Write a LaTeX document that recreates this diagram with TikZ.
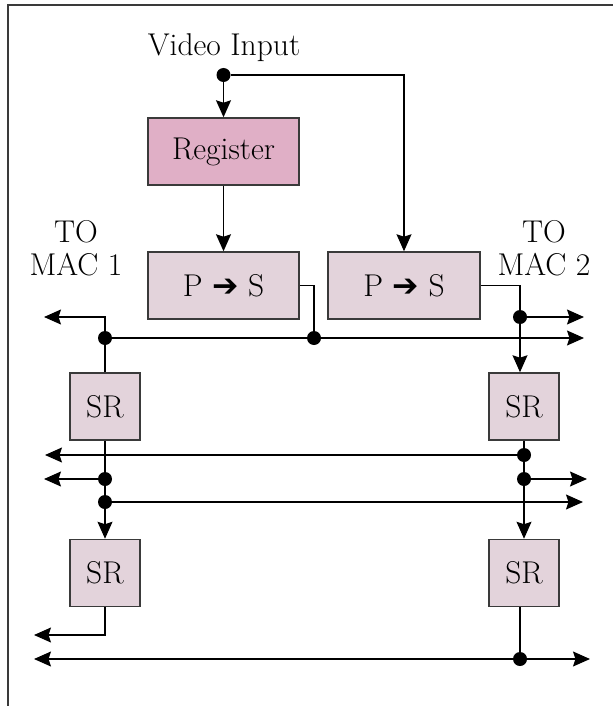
\documentclass[tikz,border=0pt]{standalone}
\usepackage{fontspec}
\usepackage{tikz}
\usetikzlibrary{arrows.meta}
\newfontfamily\arrowfont{DejaVu Sans}
\newcommand{\bigtext}{\fontsize{31.5}{33}\selectfont}
\tikzset{>={Stealth[length=17pt,width=15pt,inset=2.5pt]}}
\definecolor{regcol}{HTML}{E0AFC6}
\definecolor{boxcol}{HTML}{E3D3DB}
\definecolor{edgecol}{HTML}{3A3A3A}
\tikzset{block/.style = {shape=rectangle,draw=edgecol,line width=1.5pt,fill=boxcol,minimum height=67pt,inner sep=0pt,font=\bigtext}}
\tikzset{dot/.style = {shape=circle,fill=black,inner sep=0pt,minimum size=14pt}}
\tikzset{wire/.style = {line width=1.3pt}}

\begin{document}
\begin{tikzpicture}[x=1pt,y=-1pt]
                    \useasboundingbox (0,0) rectangle (613,706);
                    \draw[edgecol,line width=1.5pt] (8,706) -- (8,5) -- (613,5);

                    \node[font=\bigtext,anchor=base] (Vin) at (224,56) {Video Input};
                    \node[font=\bigtext,align=center] (Mac1) at (76,248.5) {TO\\MAC 1};
                    \node[font=\bigtext,align=center] (Mac2) at (544,248.5) {TO\\MAC 2};

                    \node[block,fill=regcol,minimum width=151pt] (Reg) at (223.5,151.5) {Register};
                    \node[block,minimum width=151pt] (PS1) at (223.5,285.5) {P {\arrowfont ➔} S};
                    \node[block,minimum width=152pt] (PS2) at (404,285.5) {P {\arrowfont ➔} S};
                    \node[block,minimum width=70pt] (SR1) at (105,406.5) {SR};
                    \node[block,minimum width=70pt] (SR2) at (524,406.5) {SR};
                    \node[block,minimum width=70pt] (SR3) at (105,573) {SR};
                    \node[block,minimum width=70pt] (SR4) at (524,573) {SR};

                    \node[dot] (D0) at (223.5,75) {};
                    \node[dot] (D1) at (314,338) {};
                    \node[dot] (D2) at (105,338) {};
                    \node[dot] (D3) at (520,317) {};
                    \node[dot] (D4) at (524,455) {};
                    \node[dot] (D5) at (105,479) {};
                    \node[dot] (D6) at (524,479) {};
                    \node[dot] (D7) at (105,502) {};
                    \node[dot] (D8) at (520,659) {};

                    \coordinate (L1) at (44,317);
                    \coordinate (R1) at (584,317);
                    \coordinate (R2) at (584,338);
                    \coordinate (L2) at (45,455);
                    \coordinate (L3) at (44,479);
                    \coordinate (R3) at (587,479);
                    \coordinate (R4) at (583,502);
                    \coordinate (L4) at (34,635);
                    \coordinate (L5) at (34,659);
                    \coordinate (R5) at (590,659);

                    \draw[wire,->] (D0) -- (Reg);
                    \draw[wire,->] (D0) -| (PS2);
                    \draw[wire,->] (Reg) -- (PS1);
                    \draw[wire] (PS1) -| (D1);
                    \draw[wire] (PS2) -| (D3);
                    \draw[wire,->] (D3) -- (D3 |- SR2.north);
                    \draw[wire,->] (D3) -- (R1);
                    \draw[wire,->] (D2) -- (R2);
                    \draw[wire,->] (SR1.north) |- (L1);
                    \draw[wire,->] (SR1) -- (SR3);
                    \draw[wire,->] (SR2) -- (SR4);
                    \draw[wire,->] (D4) -- (L2);
                    \draw[wire,->] (D5) -- (L3);
                    \draw[wire,->] (D6) -- (R3);
                    \draw[wire,->] (D7) -- (R4);
                    \draw[wire,->] (SR3.south) |- (L4);
                    \draw[wire] (SR4.south -| D8) -- (D8);
                    \draw[wire,->] (D8) -- (L5);
                    \draw[wire,->] (D8) -- (R5);
                \end{tikzpicture}
\end{document}
